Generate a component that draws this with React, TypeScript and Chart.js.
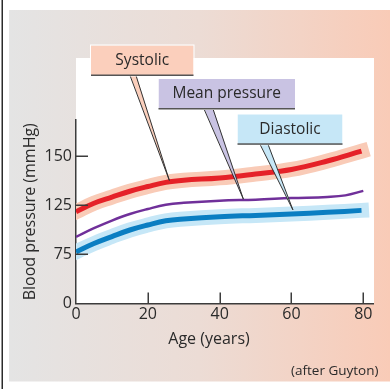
import React, { useEffect, useRef } from 'react';
import { Chart, registerables, LinearScale } from 'chart.js';

// ---------- data ----------
const AGES = [0, 5, 10, 15, 20, 25, 30, 40, 50, 60, 70, 79.5];
const SYSTOLIC = [118.4, 126.1, 129.2, 132.2, 134.6, 136.7, 137.8, 139.0, 141.0, 143.3, 147.6, 152.6];
const DIASTOLIC = [77.6, 86.1, 93.2, 99.9, 105.0, 109.3, 111.2, 113.5, 114.8, 116.1, 117.9, 119.9];
const MEAN_AGES = [0, 5, 10, 15, 20, 25, 30, 40, 50, 60, 70, 75, 80];
const MEAN = [92.9, 101.7, 109.5, 116.2, 121.3, 125.3, 126.3, 127.4, 127.9, 128.7, 129.3, 130.1, 132.4];

const X_TICKS = [0, 20, 40, 60, 80];
const Y_TICKS = [0, 75, 125, 150]; // equally spaced on the (broken) axis

const CALLOUT_LABELS = ['Systolic', 'Mean pressure', 'Diastolic'];
const CALLOUT_AGES = [26, 46.6, 60.4];
const CALLOUT_VALUES = [137.7, 128.2, 120.4];

const X_TITLE = 'Age (years)';
const Y_TITLE = 'Blood pressure (mmHg)';
const CREDIT = '(after Guyton)';

// ---------- styles ----------
const FONT = "'Open Sans', 'Noto Sans', sans-serif";
const TEXT = '#2a2a2a';
const AXIS = '#3c3c3c';
const RED = '#e52128';
const RED_HALO = '#f9cbb7';
const PURPLE = '#70309a';
const BLUE = '#0a7ec2';
const BLUE_HALO = '#c6e7f7';

const BOXES = [
  { x: 91, y: 45.5, w: 102.5, h: 30, fill: '#fbcfbc', tailL: 130, tailR: 136 },
  { x: 158.5, y: 79, w: 136.5, h: 30, fill: '#c9c3e3', tailL: 204, tailR: 213 },
  { x: 237.5, y: 114.3, w: 105, h: 30, fill: '#c6e7f7', tailL: 260, tailR: 268 },
];

// piecewise ("broken") axis mapping: tick values equally spaced
function toU(v: number): number {
  const b = Y_TICKS;
  for (let i = 0; i < b.length - 1; i++) {
    if (v <= b[i + 1] || i === b.length - 2) return i + (v - b[i]) / (b[i + 1] - b[i]);
  }
  return 0;
}
function fromU(u: number): number {
  const b = Y_TICKS;
  const i = Math.max(0, Math.min(b.length - 2, Math.floor(u)));
  return b[i] + (u - i) * (b[i + 1] - b[i]);
}

class BrokenScale extends LinearScale {
  static id = 'broken';
  configure() {
    super.configure();
    const lo = toU(this.min);
    const hi = toU(this.max);
    (this as any)._startValue = lo;
    (this as any)._endValue = hi;
    (this as any)._valueRange = hi - lo;
  }
  getPixelForValue(value: number) {
    if (value === null || value === undefined || isNaN(value)) return NaN;
    return this.getPixelForDecimal((toU(value) - (this as any)._startValue) / (this as any)._valueRange);
  }
  getValueForPixel(pixel: number) {
    return fromU((this as any)._startValue + this.getDecimalForPixel(pixel) * (this as any)._valueRange);
  }
}

Chart.register(...registerables, BrokenScale);

const decor = {
  id: 'decor',
  beforeDraw(chart: any) {
    const { ctx, width, height, chartArea } = chart;
    ctx.save();
    ctx.fillStyle = '#ffffff';
    ctx.fillRect(0, 0, width, height);
    const g = ctx.createLinearGradient(9, 0, 390, 0);
    g.addColorStop(0, '#e4e4e4');
    g.addColorStop(0.5, '#ecdcd5');
    g.addColorStop(1, '#f9cbb7');
    ctx.fillStyle = g;
    ctx.fillRect(9, 10, 381, 371.5);
    ctx.fillStyle = '#ffffff';
    ctx.fillRect(chartArea.left, 58, 374 - chartArea.left, chartArea.bottom - 58);
    ctx.fillStyle = '#2b2b2b';
    ctx.fillRect(1.5, 0, 1.5, height);
    ctx.restore();
  },
  afterDatasetsDraw(chart: any) {
    const { ctx, scales } = chart;
    const xs = scales.x;
    const ys = scales.y;
    ctx.save();
    ctx.strokeStyle = AXIS;
    ctx.lineWidth = 1.5;
    ctx.beginPath();
    X_TICKS.forEach((t) => {
      if (t === 0) return;
      const px = Math.round(xs.getPixelForValue(t)) + 0.25;
      ctx.moveTo(px, ys.bottom);
      ctx.lineTo(px, ys.bottom - 11);
    });
    Y_TICKS.forEach((t) => {
      if (t === 0) return;
      const py = Math.round(ys.getPixelForValue(t)) + 0.25;
      ctx.moveTo(xs.left, py);
      ctx.lineTo(xs.left + 12, py);
    });
    ctx.stroke();

    // titles
    ctx.fillStyle = TEXT;
    ctx.font = `16px ${FONT}`;
    ctx.textAlign = 'center';
    ctx.textBaseline = 'middle';
    ctx.fillText(X_TITLE, 209, 339);
    ctx.font = `13.5px ${FONT}`;
    ctx.textAlign = 'right';
    ctx.fillText(CREDIT, 378.5, 371);

    // callouts
    BOXES.forEach((b, i) => {
      const tx = xs.getPixelForValue(CALLOUT_AGES[i]);
      const ty = ys.getPixelForValue(CALLOUT_VALUES[i]);
      const by = b.y + b.h;
      ctx.beginPath();
      ctx.moveTo(b.tailL, by - 1);
      ctx.lineTo(tx, ty);
      ctx.lineTo(b.tailR, by - 1);
      ctx.closePath();
      ctx.fillStyle = b.fill;
      ctx.fill();
      ctx.beginPath();
      ctx.moveTo(b.tailL, by);
      ctx.lineTo(tx, ty);
      ctx.lineTo(b.tailR, by);
      ctx.strokeStyle = '#333333';
      ctx.lineWidth = 1;
      ctx.stroke();

      ctx.fillStyle = b.fill;
      ctx.fillRect(b.x, b.y, b.w, b.h);
      ctx.strokeStyle = '#ffffff';
      ctx.lineWidth = 1;
      ctx.strokeRect(b.x - 0.5, b.y - 0.5, b.w + 1, b.h + 1);
      ctx.fillStyle = '#555555';
      ctx.fillRect(b.x, by - 1, b.w, 1.5);
      ctx.fillStyle = TEXT;
      ctx.font = `15.5px ${FONT}`;
      ctx.textAlign = 'center';
      ctx.textBaseline = 'middle';
      ctx.fillText(CALLOUT_LABELS[i], b.x + b.w / 2, b.y + b.h / 2);
    });
    ctx.restore();
  },
};

function pts(xs: number[], ys: number[]) {
  return xs.map((x, i) => ({ x, y: ys[i] }));
}

export default function App() {
  const ref = useRef<HTMLCanvasElement | null>(null);
  useEffect(() => {
    document.body.style.margin = '0';
    document.body.style.overflow = 'hidden';
    const canvas = ref.current!;
    const line = (data: any, color: string, width: number, cap: string, order: number) => ({
      data,
      borderColor: color,
      borderWidth: width,
      borderCapStyle: cap,
      borderJoinStyle: 'round',
      pointRadius: 0,
      fill: false,
      tension: 0.4,
      order,
    });
    const chart = new Chart(canvas, {
      type: 'line',
      data: {
        datasets: [
          line(pts(AGES, SYSTOLIC), RED_HALO, 15, 'square', 10),
          line(pts(AGES, DIASTOLIC), BLUE_HALO, 15, 'square', 9),
          line(pts(MEAN_AGES, MEAN), PURPLE, 2.5, 'butt', 3),
          line(pts(AGES, SYSTOLIC), RED, 5, 'butt', 2),
          line(pts(AGES, DIASTOLIC), BLUE, 5, 'butt', 1),
        ] as any,
      },
      options: {
        animation: false,
        responsive: false,
        devicePixelRatio: 1,
        layout: { padding: { top: 120, right: 17, bottom: 0, left: 0 } },
        plugins: { legend: { display: false }, tooltip: { enabled: false } },
        events: [],
        scales: {
          x: {
            type: 'linear',
            min: 0,
            max: 82.7,
            afterBuildTicks: (s: any) => { s.ticks = X_TICKS.map((v) => ({ value: v })); },
            afterFit: (s: any) => { s.height = 85.5; },
            grid: { display: false, drawTicks: false },
            border: { display: true, color: AXIS, width: 1.5 },
            ticks: { color: TEXT, font: { family: FONT, size: 16 }, padding: 1, maxRotation: 0 },
          },
          y: {
            type: 'broken' as any,
            min: 0,
            max: 168.5,
            afterBuildTicks: (s: any) => { s.ticks = Y_TICKS.map((v) => ({ value: v })); },
            afterFit: (s: any) => { s.width = 76; },
            grid: { display: false, drawTicks: false },
            border: { display: true, color: AXIS, width: 1.5 },
            ticks: { color: TEXT, font: { family: FONT, size: 16 }, padding: 4 },
            title: {
              display: true,
              text: Y_TITLE,
              color: TEXT,
              font: { family: FONT, size: 16 },
              padding: { top: 20.4, bottom: 0 },
            },
          } as any,
        },
      } as any,
      plugins: [decor],
    });
    return () => chart.destroy();
  }, []);
  return (
    <div style={{ width: 390, height: 389 }}>
      <canvas ref={ref} width={390} height={389} style={{ display: 'block', width: 390, height: 389 }} />
    </div>
  );
}
